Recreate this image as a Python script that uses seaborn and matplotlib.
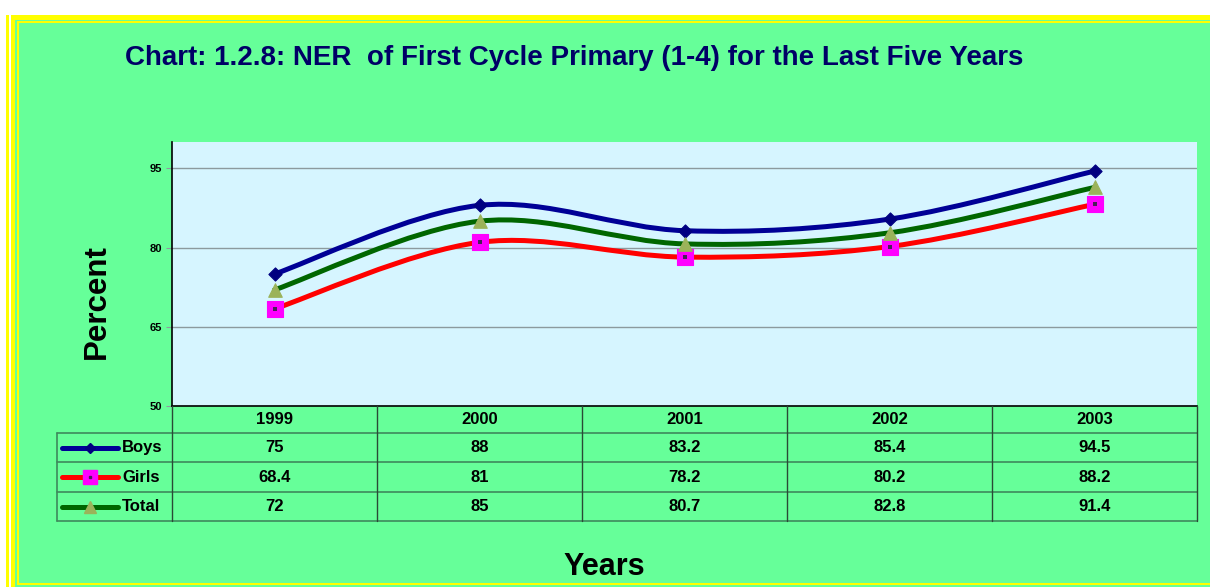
import numpy as np
import pandas as pd
import matplotlib.pyplot as plt
import seaborn as sns
from matplotlib.path import Path
from matplotlib.patches import PathPatch, Rectangle
from matplotlib.lines import Line2D

# dados
years = ['1999', '2000', '2001', '2002', '2003']
boys = [75, 88, 83.2, 85.4, 94.5]
girls = [68.4, 81, 78.2, 80.2, 88.2]
total = [72, 85, 80.7, 82.8, 91.4]
series_names = ['Boys', 'Girls', 'Total']
y_ticks = [50, 65, 80, 95]

line_colors = {'Boys': '#000096', 'Girls': '#FF0000', 'Total': '#006600'}
marker_colors = {'Boys': '#000080', 'Girls': '#FF00FF', 'Total': '#9BB35A'}
marker_shapes = {'Boys': 'D', 'Girls': 's', 'Total': '^'}
marker_sizes = {'Boys': 45, 'Girls': 130, 'Total': 95}

df = pd.DataFrame({
    'Year': years * 3,
    'pos': list(range(len(years))) * 3,
    'Percent': boys + girls + total,
    'Series': sum([[s] * len(years) for s in series_names], []),
})

sns.set_style('white')
plt.rcParams['font.family'] = ['Liberation Sans', 'DejaVu Sans']
plt.rcParams['text.color'] = 'black'
plt.rcParams['ytick.color'] = 'black'

W, H = 1210, 587
fig = plt.figure(figsize=(W / 100, H / 100), dpi=100, facecolor='white')


def box(x0, y0, x1, y1):
    # pixel box -> figure fraction [left, bottom, width, height]
    return [x0 / W, 1 - y1 / H, (x1 - x0) / W, (y1 - y0) / H]


# moldura amarela / fundo verde
yellow, green = '#FFFF00', '#66FF99'
for (x0, y0, x1, y1), c in [((6, 15, 9, 587), yellow), ((11, 15, 1210, 587), yellow),
                            ((15, 20, 1210, 587), green), ((17, 21, 1210, 585), yellow),
                            ((19, 23, 1210, 583), green)]:
    l, b, w, h = box(x0, y0, x1, y1)
    fig.patches.append(Rectangle((l, b), w, h, transform=fig.transFigure,
                                 facecolor=c, edgecolor='none', zorder=-10))

# área do gráfico
ax = fig.add_axes(box(172, 142, 1197, 406))
ax.set_facecolor('#D6F5FF')


def smooth_path(xs, ys, t=1 / 6):
    pts = np.column_stack([xs, ys]).astype(float)
    n = len(pts)
    verts, codes = [pts[0]], [Path.MOVETO]
    for i in range(n - 1):
        p0 = pts[i - 1] if i > 0 else pts[i]
        p3 = pts[i + 2] if i + 2 < n else pts[i + 1]
        c1 = pts[i] + (pts[i + 1] - p0) * t
        c2 = pts[i + 1] - (p3 - pts[i]) * t
        verts += [c1, c2, pts[i + 1]]
        codes += [Path.CURVE4] * 3
    return Path(verts, codes)


for name in series_names:
    sub = df[df['Series'] == name]
    ax.add_patch(PathPatch(smooth_path(sub['pos'], sub['Percent']), facecolor='none',
                           edgecolor=line_colors[name], linewidth=3.6, zorder=3,
                           capstyle='round'))

for name in series_names:
    sub = df[df['Series'] == name]
    sns.scatterplot(data=sub, x='pos', y='Percent', marker=marker_shapes[name],
                    color=marker_colors[name], edgecolor=marker_colors[name],
                    s=marker_sizes[name], linewidth=0.8, zorder=4, ax=ax, legend=False)
# ponto escuro no centro dos quadrados
sns.scatterplot(data=df[df['Series'] == 'Girls'], x='pos', y='Percent', marker='s',
                color='#4A2058', s=9, linewidth=0, zorder=5, ax=ax, legend=False)

ax.set_xlim(-0.5, len(years) - 0.5)
ax.set_ylim(50, 100)
ax.set_yticks(y_ticks)
ax.set_yticklabels([str(v) for v in y_ticks], fontsize=8, fontweight='bold')
ax.set_xticks([])
ax.yaxis.grid(True, color='#8C9A9E', linewidth=1)
ax.set_axisbelow(True)
ax.tick_params(axis='y', left=True, length=4, color='#8C9A9E', pad=3, labelcolor='black')
for side in ['top', 'right']:
    ax.spines[side].set_visible(False)
for side in ['left', 'bottom']:
    ax.spines[side].set_color('black')
    ax.spines[side].set_linewidth(1.2)
ax.set_xlabel('')
ax.set_ylabel('')

# tabela de dados
tab = fig.add_axes(box(57, 406, 1197, 521))
tab.set_facecolor('none')
left = -0.5 - 115 / 205
tab.set_xlim(left, len(years) - 0.5)
tab.set_ylim(521, 406)
tab.axis('off')
rows = [406, 433, 462, 492, 521]
grid_c = '#3E8A5C'
for y in rows[1:]:
    tab.plot([left, len(years) - 0.5], [y, y], color=grid_c, lw=1.2, clip_on=False)
for i in range(len(years) + 1):
    tab.plot([i - 0.5, i - 0.5], [406, 521], color='#2A4A36', lw=1, clip_on=False)
tab.plot([left, left], [433, 521], color=grid_c, lw=1.2, clip_on=False)

for i, yr in enumerate(years):
    tab.text(i, (rows[0] + rows[1]) / 2, yr, ha='center', va='center',
             fontsize=12, fontweight='bold')
values = {'Boys': boys, 'Girls': girls, 'Total': total}
for r, name in enumerate(series_names):
    yc = (rows[r + 1] + rows[r + 2]) / 2
    for i, v in enumerate(values[name]):
        tab.text(i, yc, f'{v:g}', ha='center', va='center', fontsize=12, fontweight='bold')
    # amostra da legenda
    x0, x1 = left + 5 / 205, left + 61 / 205
    tab.add_line(Line2D([x0, x1], [yc, yc], color=line_colors[name], lw=3.6,
                        solid_capstyle='round', clip_on=False))
    ms = {'Boys': 5, 'Girls': 10, 'Total': 9}[name]
    tab.plot([(x0 + x1) / 2], [yc], marker=marker_shapes[name], ms=ms,
             color=marker_colors[name], mec=marker_colors[name], clip_on=False)
    if name == 'Girls':
        tab.plot([(x0 + x1) / 2], [yc], marker='s', ms=2, color='#4A2058', clip_on=False)
    tab.text(left + 65 / 205, yc, name, ha='left', va='center', fontsize=12, fontweight='bold')

fig.text(574 / W, 1 - 58 / H, 'Chart: 1.2.8: NER  of First Cycle Primary (1-4) for the Last Five Years',
         ha='center', va='center', fontsize=20, fontweight='bold', color='#000066')
fig.text(97 / W, 1 - 302 / H, 'Percent', rotation=90, ha='center', va='center',
         fontsize=22.5, fontweight='bold')
fig.text(604 / W, 1 - 567 / H, 'Years', ha='center', va='center', fontsize=22, fontweight='bold')

plt.savefig('out.png', dpi=100, facecolor=fig.get_facecolor())
